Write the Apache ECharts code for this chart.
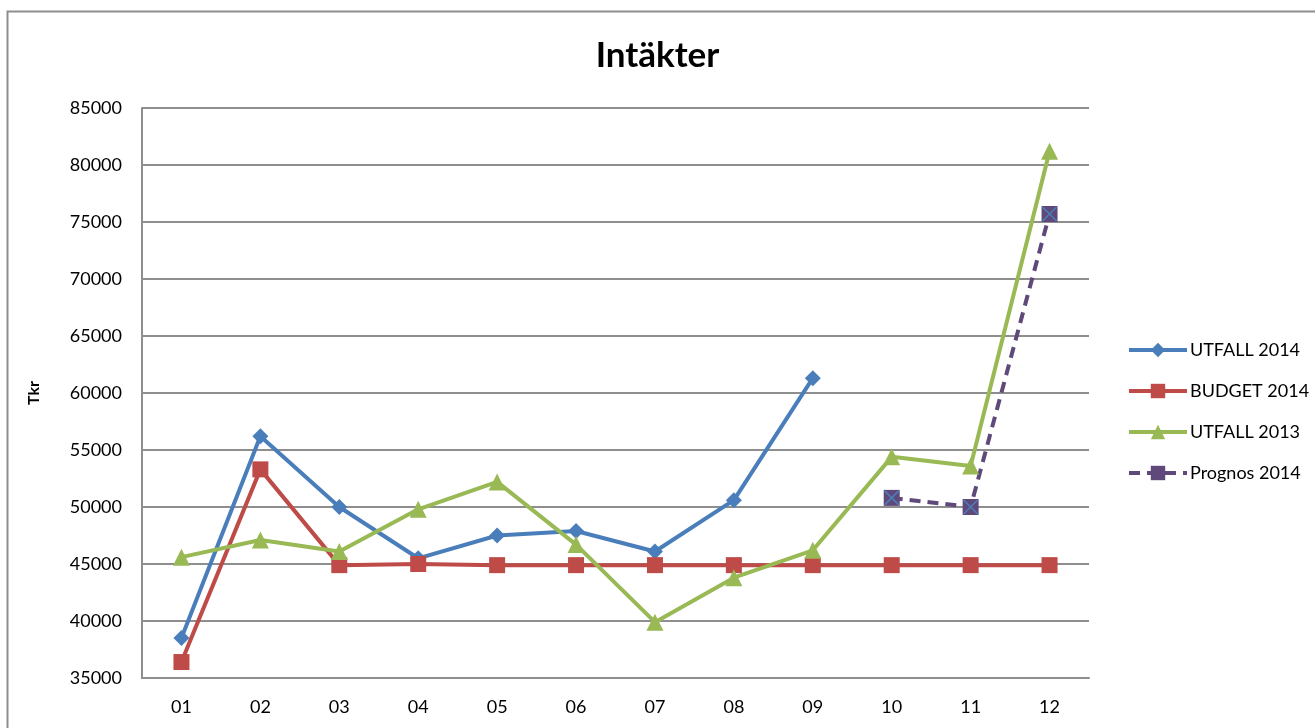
<!DOCTYPE html>
<html lang="sv">
<head>
  <meta charset="utf-8" />
  <title>Intäkter</title>
  <script src="https://cdn.jsdelivr.net/npm/echarts@6/dist/echarts.min.js"></script>
  <style>
    html, body { margin: 0; padding: 0; background: #fff; }
  </style>
</head>
<body>
  <div id="main" style="width: 1315px;height:728px;"></div>
  <script type="text/javascript">
    // data
    var months = ['01', '02', '03', '04', '05', '06', '07', '08', '09', '10', '11', '12'];
    var utfall2014 = [38500, 56200, 50000, 45500, 47500, 47900, 46100, 50600, 61300, null, null, null];
    var budget2014 = [36400, 53300, 44900, 45000, 44900, 44900, 44900, 44900, 44900, 44900, 44900, 44900];
    var utfall2013 = [45600, 47100, 46100, 49800, 52200, 46700, 39900, 43800, 46200, 54400, 53600, 81200];
    var prognos2014 = [null, null, null, null, null, null, null, null, null, 50800, 50000, 75700];
    var yTicks = { min: 35000, max: 85000, step: 5000 };

    var font = 'Lato, "Noto Sans", sans-serif';
    var xPath = 'path://M0,0 L10,10 M10,0 L0,10';

    var myChart = echarts.init(document.getElementById('main'));

    var option = {
      backgroundColor: '#fff',
      animation: false,
      textStyle: { fontFamily: font },
      title: {
        text: 'Intäkter',
        left: 'center',
        top: 33,
        textStyle: { fontSize: 35, fontWeight: 'bold', color: '#000', fontFamily: font }
      },
      graphic: [{
        type: 'rect',
        shape: { x: 7.5, y: 11.5, width: 1340, height: 760 },
        style: { fill: null, stroke: '#8e8e8e', lineWidth: 2 },
        silent: true
      }],
      legend: {
        orient: 'vertical',
        left: 1122,
        top: 336,
        itemWidth: 58,
        itemHeight: 18,
        itemGap: 23,
        lineStyle: { width: 4 },
        textStyle: { fontSize: 18, color: '#000', fontFamily: font, padding: [0, 0, 0, -2] },
        data: ['UTFALL 2014', 'BUDGET 2014', 'UTFALL 2013', 'Prognos 2014']
      },
      grid: { left: 142, top: 108, right: 226, bottom: 50 },
      xAxis: {
        type: 'category',
        data: months,
        boundaryGap: true,
        axisLine: { lineStyle: { color: '#8e8e8e', width: 2 } },
        axisTick: { show: false },
        axisLabel: { fontSize: 18, color: '#000', margin: 20 }
      },
      yAxis: {
        type: 'value',
        name: 'Tkr',
        nameLocation: 'middle',
        nameRotate: 90,
        nameGap: 100,
        nameTextStyle: { fontSize: 16, fontWeight: 'bold', color: '#000' },
        min: yTicks.min,
        max: yTicks.max,
        interval: yTicks.step,
        axisLine: { show: true, lineStyle: { color: '#8e8e8e', width: 2 } },
        axisTick: { show: false },
        axisLabel: { fontSize: 18, color: '#000', margin: 20, formatter: function (v) { return String(v); } },
        splitLine: { lineStyle: { color: '#8e8e8e', width: 2 } }
      },
      series: [
        {
          name: 'UTFALL 2014',
          type: 'line',
          data: utfall2014,
          symbol: 'diamond',
          symbolSize: 16,
          color: '#4a7ebb',
          lineStyle: { width: 4 }
        },
        {
          name: 'BUDGET 2014',
          type: 'line',
          data: budget2014,
          symbol: 'rect',
          symbolSize: 16,
          color: '#be4b48',
          lineStyle: { width: 4 }
        },
        {
          name: 'UTFALL 2013',
          type: 'line',
          data: utfall2013,
          symbol: 'triangle',
          symbolSize: 17,
          color: '#98b954',
          lineStyle: { width: 4 }
        },
        {
          name: 'Prognos 2014',
          type: 'line',
          data: prognos2014,
          symbol: 'rect',
          symbolSize: 16,
          color: '#5f497a',
          lineStyle: { width: 4, type: [11, 7] }
        },
        {
          // blue cross drawn over the Prognos markers
          name: 'Prognos X',
          type: 'line',
          data: prognos2014,
          symbol: xPath,
          symbolSize: 14,
          itemStyle: { color: 'none', borderColor: '#4a7ebb', borderWidth: 1.5 },
          lineStyle: { width: 0, opacity: 0 },
          silent: true
        }
      ]
    };
    myChart.setOption(option);
  </script>
</body>
</html>
